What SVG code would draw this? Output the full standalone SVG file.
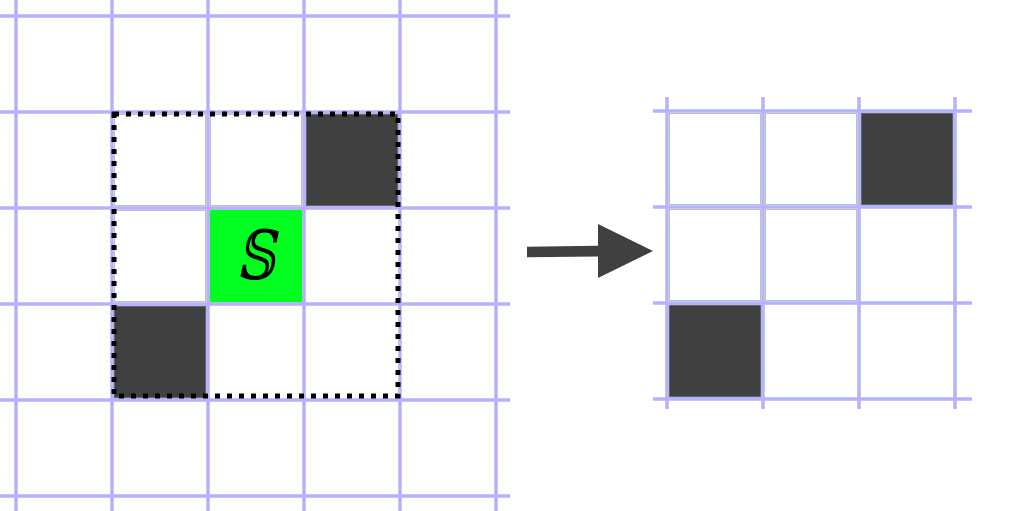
<svg xmlns="http://www.w3.org/2000/svg" width="1022" height="511" viewBox="0 0 1022 511">
<style>
.cell{fill:#ffffff;stroke:#c0c0c0;stroke-width:1}
.dark{fill:#404040;stroke:#888888;stroke-width:1}
.start{fill:#00ff1e;stroke:#c0c0c0;stroke-width:1}
.grid line{stroke:#b3b3ff;stroke-width:3.5}
.win{fill:none;stroke:#000000;stroke-width:5;stroke-dasharray:5 7}
.lbl{font-family:"DejaVu Serif","Liberation Serif",serif;font-size:68px;font-style:italic;fill:#000000}
</style>
<rect width="1022" height="511" fill="#ffffff"/>
<g id="left-cells">
<g id="L-r1c1"><rect class="cell" x="114.5" y="114.5" width="91" height="91"/></g>
<g id="L-r1c2"><rect class="cell" x="210.5" y="114.5" width="91" height="91"/></g>
<g id="L-r1c3"><rect class="dark" x="306" y="114" width="92" height="92"/></g>
<g id="L-r2c1"><rect class="cell" x="114.5" y="210.5" width="91" height="91"/></g>
<g id="L-start"><rect class="start" x="209.5" y="209.5" width="93" height="93"/><text class="lbl" transform="translate(255.5,279) scale(0.8,1)" x="0" y="0" text-anchor="middle">𝕊</text></g>
<g id="L-r3c1"><rect class="dark" x="114" y="306" width="92" height="92"/></g>
</g>
<g id="right-cells">
<g id="R-r1c1"><rect class="cell" x="669.5" y="113.5" width="91" height="91"/></g>
<g id="R-r1c2"><rect class="cell" x="765.5" y="113.5" width="91" height="91"/></g>
<g id="R-r1c3"><rect class="dark" x="861" y="113" width="92" height="92"/></g>
<g id="R-r2c1"><rect class="cell" x="669.5" y="209.5" width="91" height="91"/></g>
<g id="R-r2c2"><rect class="cell" x="765.5" y="209.5" width="91" height="91"/></g>
<g id="R-r3c1"><rect class="dark" x="669" y="305" width="92" height="92"/></g>
</g>
<g id="left-grid" class="grid">
<line x1="16" y1="0" x2="16" y2="511"/>
<line x1="112" y1="0" x2="112" y2="511"/>
<line x1="208" y1="0" x2="208" y2="511"/>
<line x1="304" y1="0" x2="304" y2="511"/>
<line x1="400" y1="0" x2="400" y2="511"/>
<line x1="496" y1="0" x2="496" y2="511"/>
<line x1="0" y1="16" x2="510" y2="16"/>
<line x1="0" y1="112" x2="510" y2="112"/>
<line x1="0" y1="208" x2="510" y2="208"/>
<line x1="0" y1="304" x2="510" y2="304"/>
<line x1="0" y1="400" x2="510" y2="400"/>
<line x1="0" y1="496" x2="510" y2="496"/>
</g>
<g id="right-grid" class="grid">
<line x1="667" y1="97" x2="667" y2="409"/>
<line x1="763" y1="97" x2="763" y2="409"/>
<line x1="859" y1="97" x2="859" y2="409"/>
<line x1="955" y1="97" x2="955" y2="409"/>
<line x1="653" y1="111" x2="972" y2="111"/>
<line x1="653" y1="207" x2="972" y2="207"/>
<line x1="653" y1="303" x2="972" y2="303"/>
<line x1="653" y1="399" x2="972" y2="399"/>
</g>
<g id="window"><rect class="win" x="114" y="114" width="284" height="282"/></g>
<g id="connectors">
<polygon points="527,246.7 598,245.7 598,224 653,251 598,278 598,256.5 527,257.3" fill="#404040"/>
</g>
</svg>
